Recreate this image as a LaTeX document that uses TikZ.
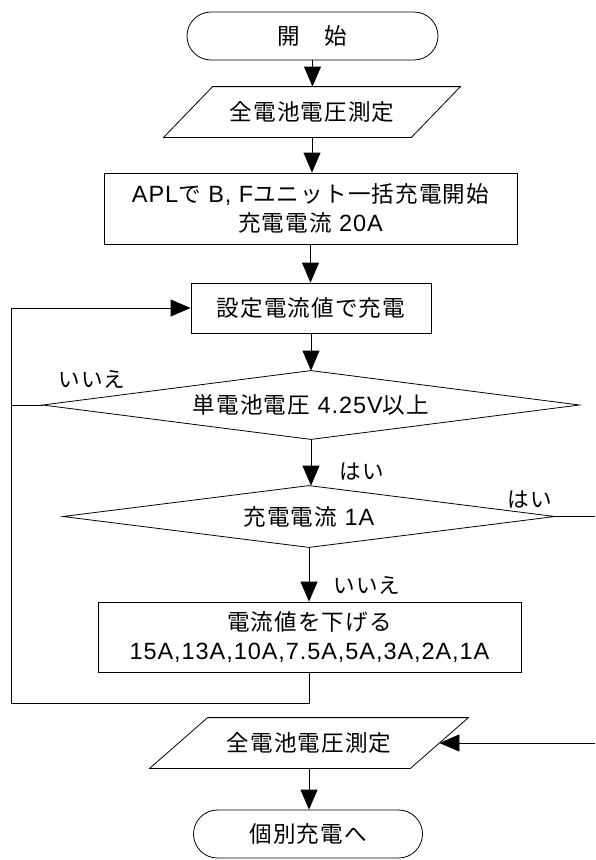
\documentclass[tikz,border=0pt]{standalone}
\usepackage{fontspec}
\setmainfont[LetterSpace=4]{Liberation Sans}
\newfontfamily\jp[Scale=0.96,LetterSpace=5]{Noto Sans CJK JP}
\usetikzlibrary{shapes.geometric,arrows.meta}
\begin{document}
\begin{tikzpicture}[x=1pt,y=-1pt,
  line width=0.8pt,
  every node/.style={font=\fontsize{23.5}{29}\selectfont, inner sep=0pt},
  box/.style={draw, rectangle, align=center},
  term/.style={draw, rectangle, rounded corners=24pt, minimum height=48pt},
  hold/.style={rectangle},
  para/.style={rectangle, minimum height=50pt},
  lbl/.style={font=\jp\fontsize{22.5}{24}\selectfont},
  arr/.style={-{Triangle[length=20pt,width=17pt]}},
]
\useasboundingbox (0,0) rectangle (595,860);

% nodes
\node[term, minimum width=251pt] (start) at (312.5,36) {\jp 開　始};
\node[para, minimum width=247pt] (p1) at (312,112) {\jp 全電池電圧測定};
\draw ([xshift=24.5pt]p1.north west) -- ([xshift=24.5pt]p1.north east)
  -- ([xshift=-24.5pt]p1.south east) -- ([xshift=-24.5pt]p1.south west) -- cycle;
\node[box, minimum width=413pt, minimum height=71pt] (apl) at (310.5,208.5)
  {APL{\jp で} B, F{\jp ユニット一括充電開始}\\{\jp 充電電流} 20A};
\node[box, minimum width=240pt, minimum height=50pt] (b2) at (311,308) {\jp 設定電流値で充電};
\node[hold, minimum width=536pt, minimum height=68pt] (d1) at (311,405) {{\jp 単電池電圧} 4.25V{\jp 以上}};
\draw (d1.north) -- (d1.east) -- (d1.south) -- (d1.west) -- cycle;
\node[hold, minimum width=491pt, minimum height=61pt] (d2) at (309,516.5) {{\jp 充電電流} 1A};
\draw (d2.north) -- (d2.east) -- (d2.south) -- (d2.west) -- cycle;
\node[box, minimum width=423pt, minimum height=70pt] (b3) at (309.5,637)
  {{\jp 電流値を下げる}\\15A,13A,10A,7.5A,5A,3A,2A,1A};
\node[para, minimum width=260pt] (p2) at (309,743) {\jp 全電池電圧測定};
\draw ([xshift=29pt]p2.north west) -- ([xshift=29pt]p2.north east)
  -- ([xshift=-29pt]p2.south east) -- ([xshift=-29pt]p2.south west) -- cycle;
\node[term, minimum width=229pt] (end) at (308,834) {\jp 個別充電へ};

% labels
\node[lbl] (l1) at (92,379) {いいえ};
\node[lbl] (l2) at (362,472) {はい};
\node[lbl] (l3) at (530,500) {はい};
\node[lbl] (l4) at (367,585) {いいえ};

% helper coordinates
\coordinate (lp) at (11,703);
\coordinate (r2) at (595,743);

% connectors
\draw[arr] (start.south) -- (start.south |- p1.north);
\draw[arr] (p1.south) -- (p1.south |- apl.north);
\draw[arr] (apl.south) -- (apl.south |- b2.north);
\draw[arr] (b2.south) -- (b2.south |- d1.north);
\draw[arr] (d1.south) -- (d1.south |- d2.north);
\draw[arr] (d2.south) -- (d2.south |- b3.north);
\draw[arr] (b3.south) |- (lp) |- (b2.west);
\draw (d1.west) -- (d1.west -| lp);
\draw (d2.east) -- (d2.east -| r2);
\draw[arr] (r2) -- (p2.east);
\draw[arr] (p2.south) -- (p2.south |- end.north);
\end{tikzpicture}
\end{document}
